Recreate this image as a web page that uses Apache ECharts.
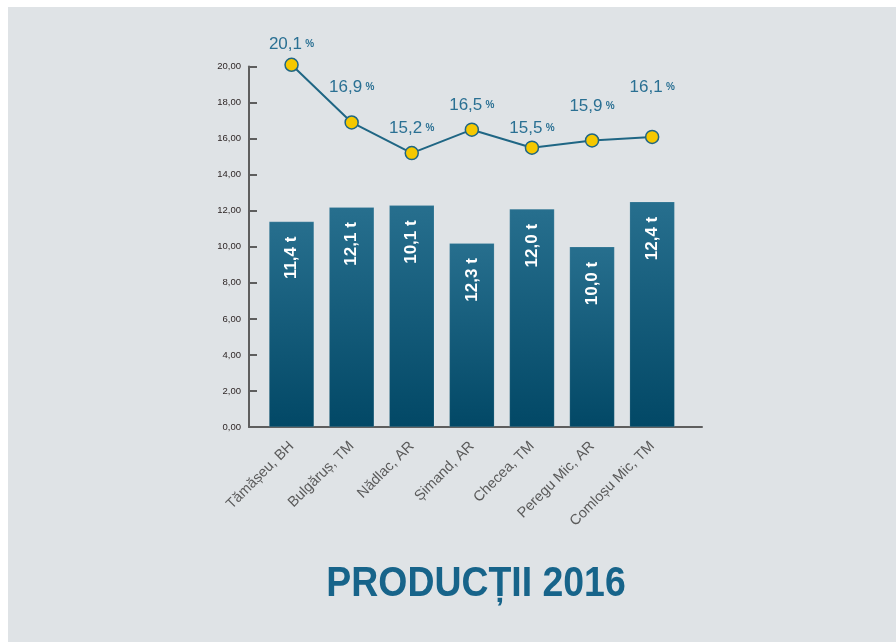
<!DOCTYPE html>
<html>
<head>
<meta charset="utf-8">
<script src="https://cdn.jsdelivr.net/npm/echarts@6/dist/echarts.min.js"></script>
<style>
	html, body { margin: 0; padding: 0; background: #ffffff; }
	#chart { position: absolute; left: 8px; top: 7px; width: 888px; height: 635px; }
</style>
</head>
<body>
<div id="chart"></div>
<script>
var categories = ['Tămășeu, BH', 'Bulgăruș, TM', 'Nădlac, AR', 'Șimand, AR', 'Checea, TM', 'Peregu Mic, AR', 'Comloșu Mic, TM'];
var barValues = [11.4, 12.2, 12.3, 10.2, 12.1, 10.0, 12.5];
var barLabels = ['11,4 t', '12,1 t', '10,1 t', '12,3 t', '12,0 t', '10,0 t', '12,4 t'];
var lineValues = [20.1, 16.9, 15.2, 16.5, 15.5, 15.9, 16.1];
var yTicks = { min: 0, max: 20, step: 2 };
var titleText = 'PRODUCȚII 2016';

// label lift above each point (px), the original places them by hand
var labelLift = [5, 19, 9, 9, 4, 18, 34];

var myChart = echarts.init(document.getElementById('chart'));
var fmt = function (v) { return v.toFixed(2).replace('.', ','); };

option = {
	backgroundColor: '#dfe3e6',
	animation: false,
	graphic: [{
		type: 'text',
		x: 468,
		y: 577,
		scaleX: 0.87,
		style: {
			text: titleText,
			align: 'center',
			verticalAlign: 'middle',
			fontFamily: 'Liberation Sans, Arial, sans-serif',
			fontWeight: 'bold',
			fontSize: 43,
			fill: '#17648a'
		}
	}],
	grid: [{
		left: 241,
		right: 194,
		top: 59.6,
		bottom: 215
	}, {
		left: 253.5,
		width: 420.7,
		top: 59.6,
		bottom: 215
	}],
	xAxis: [{
		gridIndex: 0,
		type: 'value',
		min: 0,
		max: 1,
		axisLine: { show: true, lineStyle: { color: '#5e5e5e', width: 2 } },
		axisTick: { show: false },
		axisLabel: { show: false },
		splitLine: { show: false }
	}, {
		gridIndex: 1,
		type: 'category',
		data: categories,
		axisLine: { show: false },
		axisTick: { show: false },
		axisLabel: {
			rotate: 45,
			margin: 17,
			fontFamily: 'Liberation Sans, Arial, sans-serif',
			fontSize: 14.5,
			color: '#5a5a5a'
		}
	}],
	yAxis: [{
		gridIndex: 0,
		type: 'value',
		min: yTicks.min,
		max: yTicks.max,
		interval: yTicks.step,
		axisLine: { show: true, lineStyle: { color: '#5e5e5e', width: 2 } },
		axisTick: { show: true, inside: true, length: 8, lineStyle: { color: '#5e5e5e', width: 2 } },
		axisLabel: {
			margin: 8,
			fontFamily: 'Liberation Sans, Arial, sans-serif',
			fontSize: 9.5,
			color: '#2e2626',
			formatter: fmt
		},
		splitLine: { show: false }
	}, {
		gridIndex: 1,
		type: 'value',
		min: yTicks.min,
		max: yTicks.max,
		show: false
	}],
	series: [{
		type: 'bar',
		xAxisIndex: 1,
		yAxisIndex: 1,
		barWidth: 45,
		itemStyle: {
			color: new echarts.graphic.LinearGradient(0, 0, 0, 1, [
				{ offset: 0, color: '#276f8e' },
				{ offset: 1, color: '#024866' }
			]),
			borderColor: 'rgba(255,255,255,0.25)',
			borderWidth: 0.5
		},
		label: {
			show: true,
			position: 'insideTop',
			rotate: 90,
			align: 'right',
			verticalAlign: 'middle',
			distance: 15,
			fontFamily: 'Liberation Sans, Arial, sans-serif',
			fontWeight: 'bold',
			fontSize: 17,
			color: '#ffffff',
			formatter: function (p) { return barLabels[p.dataIndex]; }
		},
		data: barValues
	}, {
		type: 'line',
		xAxisIndex: 1,
		yAxisIndex: 1,
		clip: false,
		symbol: 'circle',
		symbolSize: 13,
		lineStyle: { color: '#1f6684', width: 2 },
		itemStyle: { color: '#f5c800', borderColor: '#1f6684', borderWidth: 1.5 },
		label: {
			show: true,
			position: 'top',
			formatter: function (p) {
				return '{v|' + p.value.toFixed(1).replace('.', ',') + '} {p|%}';
			},
			rich: {
				v: { fontFamily: 'Liberation Sans, Arial, sans-serif', fontSize: 17, color: '#2a7093' },
				p: { fontFamily: 'Liberation Sans, Arial, sans-serif', fontSize: 10, fontWeight: 'bold', color: '#2a7093' }
			}
		},
		data: lineValues.map(function (v, i) {
			return { value: v, label: { distance: labelLift[i] } };
		})
	}]
};

myChart.setOption(option);
window.onresize = myChart.resize;
</script>
</body>
</html>
